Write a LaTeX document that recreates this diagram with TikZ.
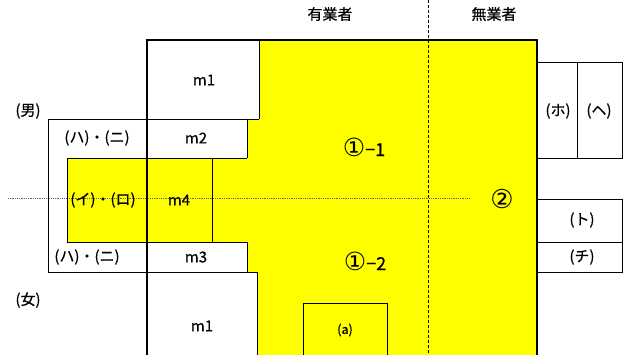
\documentclass[tikz,border=0pt]{standalone}
\usepackage{fontspec}
\setmainfont{Noto Sans CJK JP}[FakeBold=0.6]
\newfontfamily\circfont{DejaVu Sans}
\definecolor{yel}{RGB}{255,255,0}
\begin{document}
\begin{tikzpicture}[x=1pt,y=-1pt,
  thinline/.style={draw=black,line width=0.8pt},
  thickline/.style={draw=black,line width=1.8pt},
  lbl/.style={font=\fontsize{15}{17}\selectfont,inner sep=0pt,anchor=center},
  big/.style={font=\fontsize{18}{20}\selectfont,inner sep=0pt,anchor=center},
  area/.style={fill=yel}]
\useasboundingbox (0,0) rectangle (630,354);
\fill[white] (0,0) rectangle (630,354);
\begin{scope}
\clip (0,0) rectangle (630,354);
% yellow region
\fill[area] (259,40) -- (537,40) -- (537,360) -- (257,360) -- (257,272) -- (247,272)
  -- (247,242) -- (67,242) -- (67,158) -- (247,158) -- (247,119) -- (259,119) -- cycle;
% grey dotted horizontal axis
\draw[gray!80!black,densely dotted,line width=0.8pt] (8,198) -- (470,198);
% dashed vertical divider
\draw[black,densely dashed,line width=0.7pt] (428,0) -- (428,360);
% thin lines of left part
\draw[thinline] (259,40) -- (259,119);
\draw[thinline] (48,272) -- (48,119) -- (259,119);
\draw[thinline] (247,119) -- (247,158);
\draw[thinline] (67,158) -- (247,158);
\draw[thinline] (67,158) -- (67,242) -- (247,242) -- (247,272);
\draw[thinline] (212,158) -- (212,242);
\draw[thinline] (48,272) -- (257,272) -- (257,360);
% right boxes
\draw[thinline] (537,62) rectangle (622,158);
\draw[thinline] (577,62) -- (577,158);
\draw[thinline] (537,199) rectangle (622,272);
\draw[thinline] (537,242) -- (622,242);
% (a) box
\draw[thinline] (303,303) rectangle (387,370);
% thick main frame
\draw[thickline] (147,360) -- (147,40) -- (537,40) -- (537,360);
\end{scope}
% labels
\node[lbl] (yugyo) at (330,14) {有業者};
\node[lbl] (mugyo) at (494,14) {無業者};
\node[lbl] (otoko) at (28,111) {(男)};
\node[lbl] (onna) at (28,300) {(女)};
\node[lbl] (m1a) at (204,80) {m1};
\node[lbl] (hani1) at (97,138) {(ハ)・(ニ)};
\node[lbl] (m2) at (196,138) {m2};
\node[lbl] (iro) at (103,200) {(イ)・(ロ)};
\node[lbl] (m4) at (179,200) {m4};
\node[lbl] (hani2) at (87,257) {(ハ)・(ニ)};
\node[lbl] (m3) at (196,257) {m3};
\node[lbl] (m1b) at (202,326) {m1};
\node[big] (c11) at (364,147) {{\circfont\fontsize{25}{27}\selectfont ①}−1};
\node[big] (c12) at (365,261) {{\circfont\fontsize{25}{27}\selectfont ①}−2};
\node[big] (c2) at (502,199) {{\circfont\fontsize{26}{28}\selectfont ②}};
\node[lbl] (ho) at (558,111) {(ホ)};
\node[lbl] (he) at (599,111) {(ヘ)};
\node[lbl] (to) at (582,220) {(ト)};
\node[lbl] (chi) at (582,257) {(チ)};
\node[lbl,font=\fontsize{12.5}{14}\selectfont] (a) at (345,330) {(a)};
\end{tikzpicture}
\end{document}
